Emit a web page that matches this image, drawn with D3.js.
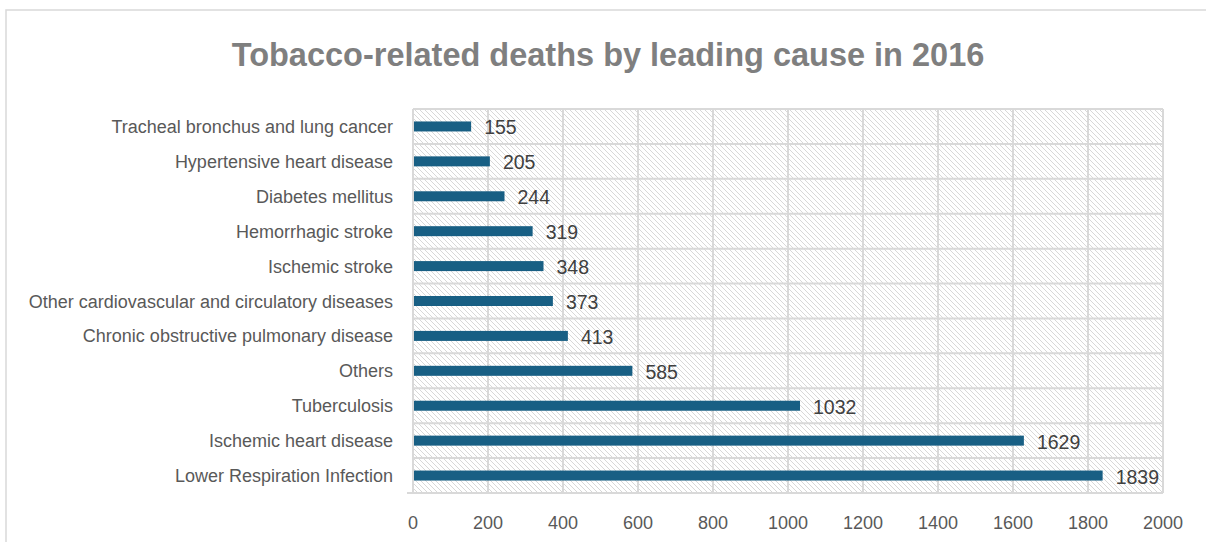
<!DOCTYPE html>
<html>
<head>
<meta charset="utf-8">
<script src="https://cdn.jsdelivr.net/npm/d3@7"></script>
<style>
  body { margin: 0; background: #fff; }
  text { font-family: "Liberation Sans", Arial, sans-serif; }
</style>
</head>
<body>
<script>
// top to bottom, as shown in the chart
const causes = [
  'Tracheal bronchus and lung cancer',
  'Hypertensive heart disease',
  'Diabetes mellitus',
  'Hemorrhagic stroke',
  'Ischemic stroke',
  'Other cardiovascular and circulatory diseases',
  'Chronic obstructive pulmonary disease',
  'Others',
  'Tuberculosis',
  'Ischemic heart disease',
  'Lower Respiration Infection'
];
const deaths = [155, 205, 244, 319, 348, 373, 413, 585, 1032, 1629, 1839];
const xTicks = [0, 200, 400, 600, 800, 1000, 1200, 1400, 1600, 1800, 2000];

const W = 1206, H = 542;
const plotL = 413, plotR = 1163, plotT = 109, plotB = 493;

const svg = d3.select('body').append('svg')
  .attr('width', W)
  .attr('height', H);

// hatch pattern for the plot area
const pat = svg.append('defs').append('pattern')
  .attr('id', 'hatch')
  .attr('patternUnits', 'userSpaceOnUse')
  .attr('width', 5).attr('height', 5);
pat.append('path')
  .attr('d', 'M-1,-1 L6,6 M-1,4 L1,6 M4,-1 L6,1')
  .attr('stroke', '#d4d4d4')
  .attr('stroke-width', 0.9);

// chart border
svg.append('rect')
  .attr('x', 6).attr('y', 10)
  .attr('width', W + 10).attr('height', H + 10)
  .attr('fill', '#fff')
  .attr('stroke', '#d9d9d9')
  .attr('stroke-width', 1.5);

svg.append('text')
  .attr('x', 608).attr('y', 66)
  .attr('text-anchor', 'middle')
  .attr('fill', '#7f7f7f')
  .style('font-size', '32.5px')
  .style('font-weight', 'bold')
  .text('Tobacco-related deaths by leading cause in 2016');

const x = d3.scaleLinear().domain([0, 2000]).range([plotL, plotR]);
const y = d3.scaleBand().domain(causes).range([plotT, plotB]).padding(0);

svg.append('rect')
  .attr('x', plotL).attr('y', plotT)
  .attr('width', plotR - plotL).attr('height', plotB - plotT)
  .attr('fill', 'url(#hatch)');

// vertical gridlines
svg.selectAll('.vgrid')
  .data(xTicks)
  .enter()
  .append('line')
  .attr('x1', d => x(d)).attr('x2', d => x(d))
  .attr('y1', plotT).attr('y2', plotB)
  .attr('stroke', '#d9d9d9')
  .attr('stroke-width', 2);

// horizontal category separators
const seps = causes.map(c => y(c)).concat([plotB]);
svg.selectAll('.hgrid')
  .data(seps)
  .enter()
  .append('line')
  .attr('x1', (d, i) => i === seps.length - 1 ? 407 : plotL)
  .attr('x2', plotR)
  .attr('y1', d => d).attr('y2', d => d)
  .attr('stroke', '#d9d9d9')
  .attr('stroke-width', 2);

const barH = 10;
svg.selectAll('.bar')
  .data(deaths)
  .enter()
  .append('rect')
  .attr('x', x(0) + 1)
  .attr('y', (d, i) => y(causes[i]) + y.bandwidth() / 2 - barH / 2)
  .attr('width', d => x(d) - x(0) - 1)
  .attr('height', barH)
  .attr('fill', '#185f84');

svg.selectAll('.val')
  .data(deaths)
  .enter()
  .append('text')
  .attr('x', d => x(d) + 13)
  .attr('y', (d, i) => y(causes[i]) + y.bandwidth() / 2 + 8)
  .attr('fill', '#404040')
  .style('font-size', '19.5px')
  .text(d => d);

svg.selectAll('.cat')
  .data(causes)
  .enter()
  .append('text')
  .attr('x', 393)
  .attr('y', d => y(d) + y.bandwidth() / 2 + 6.5)
  .attr('text-anchor', 'end')
  .attr('fill', '#595959')
  .style('font-size', '18px')
  .text(d => d);

svg.selectAll('.tick')
  .data(xTicks)
  .enter()
  .append('text')
  .attr('x', d => x(d))
  .attr('y', 529)
  .attr('text-anchor', 'middle')
  .attr('fill', '#595959')
  .style('font-size', '18px')
  .text(d => d);
</script>
</body>
</html>
